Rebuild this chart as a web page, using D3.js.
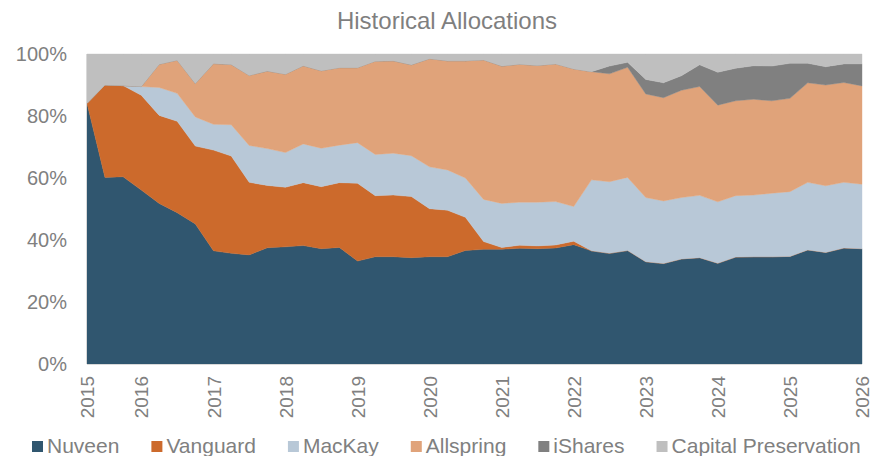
<!DOCTYPE html>
<html>
<head>
<meta charset="utf-8">
<script src="https://cdn.jsdelivr.net/npm/d3@7"></script>
<style>
    body { margin: 0; background: #fff; }
    svg { display: block; font-family: "Liberation Sans", Arial, sans-serif; }
    .axis text { fill: #808080; }
</style>
</head>
<body>
<svg width="870" height="456"></svg>
<script>
/*global d3*/

// quarterly observations, first one is spring 2015
var quarters = ["2015-04", "2015-07", "2015-10",
    "2016-01", "2016-04", "2016-07", "2016-10",
    "2017-01", "2017-04", "2017-07", "2017-10",
    "2018-01", "2018-04", "2018-07", "2018-10",
    "2019-01", "2019-04", "2019-07", "2019-10",
    "2020-01", "2020-04", "2020-07", "2020-10",
    "2021-01", "2021-04", "2021-07", "2021-10",
    "2022-01", "2022-04", "2022-07", "2022-10",
    "2023-01", "2023-04", "2023-07", "2023-10",
    "2024-01", "2024-04", "2024-07", "2024-10",
    "2025-01", "2025-04", "2025-07", "2025-10",
    "2026-01"];

var nuveen = [84.1, 60.2, 60.4, 56.1, 51.8, 48.8, 45.2, 36.5, 35.7, 35.2,
    37.5, 37.8, 38.2, 37.2, 37.6, 33.2, 34.6, 34.6, 34.3, 34.6,
    34.6, 36.6, 37.0, 37.0, 37.3, 37.2, 37.4, 38.5, 36.5, 35.7,
    36.6, 33.0, 32.4, 33.9, 34.3, 32.5, 34.5, 34.6, 34.6, 34.7,
    36.8, 36.0, 37.4, 37.2];
var vanguard = [0, 29.8, 29.4, 30.6, 28.4, 29.5, 25.1, 32.5, 31.4, 23.4,
    20.1, 19.2, 20.3, 20.0, 20.9, 25.1, 19.7, 19.9, 19.7, 15.5,
    15.0, 10.7, 2.5, 0.6, 1.0, 0.9, 1.0, 1.1, 0, 0,
    0, 0, 0, 0, 0, 0, 0, 0, 0, 0,
    0, 0, 0, 0];
var mackay = [0, 0, 0, 2.8, 9.0, 9.0, 9.4, 8.3, 10.1, 11.9,
    11.9, 11.2, 12.5, 12.4, 12.1, 13.1, 13.3, 13.5, 13.2, 13.5,
    13.0, 12.7, 13.6, 14.2, 13.9, 14.1, 14.0, 11.2, 22.9, 23.1,
    23.6, 20.7, 20.2, 19.8, 20.1, 19.8, 19.8, 19.9, 20.5, 20.9,
    21.8, 21.5, 21.2, 20.8];
var allspring = [0, 0, 0, 0, 7.5, 10.7, 10.8, 19.6, 19.4, 22.6,
    25.0, 25.3, 25.2, 25.0, 25.0, 24.2, 30.1, 29.8, 29.3, 34.9,
    35.2, 37.8, 45.0, 44.3, 44.5, 44.1, 44.4, 44.4, 34.9, 34.8,
    35.5, 33.4, 33.3, 34.6, 35.1, 31.2, 30.6, 30.9, 29.8, 30.1,
    32.1, 32.5, 32.2, 31.7];
var ishares = [0, 0, 0, 0, 0, 0, 0, 0, 0, 0,
    0, 0, 0, 0, 0, 0, 0, 0, 0, 0,
    0, 0, 0, 0, 0, 0, 0, 0, 0, 2.5,
    1.6, 4.7, 4.8, 4.7, 7.0, 10.6, 10.5, 10.8, 11.2, 11.3,
    6.3, 5.9, 6.0, 7.1];
var capital = [15.9, 10.0, 10.2, 10.5, 3.3, 2.0, 9.5, 3.1, 3.4, 6.9,
    5.5, 6.5, 3.8, 5.4, 4.4, 4.4, 2.3, 2.2, 3.5, 1.5,
    2.2, 2.2, 1.9, 3.9, 3.3, 3.7, 3.2, 4.8, 5.7, 3.9,
    2.7, 8.2, 9.3, 7.0, 3.5, 5.9, 4.6, 3.8, 3.9, 3.0,
    3.0, 4.1, 3.2, 3.2];

var names = ["Nuveen", "Vanguard", "MacKay", "Allspring", "iShares", "Capital Preservation"];
var colors = ["#30566f", "#cc6a2c", "#b8c8d7", "#e0a37a", "#808080", "#bfbfbf"];
var yTicks = [0, 0.2, 0.4, 0.6, 0.8, 1];

var svg = d3.select("svg"),
    margin = {
        top: 54,
        right: 8,
        bottom: 92,
        left: 87
    },
    width = +svg.attr("width") - margin.left - margin.right,
    height = +svg.attr("height") - margin.top - margin.bottom;

var parse = d3.timeParse("%Y-%m");
var series = [nuveen, vanguard, mackay, allspring, ishares, capital];

var data = quarters.map(function (q, i) {
    var row = { date: parse(q) };
    names.forEach(function (n, k) {
        row[n] = series[k][i];
    });
    return row;
});

var stack = d3.stack()
    .keys(names)
    .offset(d3.stackOffsetExpand);
var layers = stack(data);

var x = d3.scaleTime()
    .domain(d3.extent(data, function (d) { return d.date; }))
    .range([0, width]);
var y = d3.scaleLinear().domain([0, 1]).range([height, 0]);

var area = d3.area()
    .x(function (d) { return x(d.data.date); })
    .y0(function (d) { return y(d[0]); })
    .y1(function (d) { return y(d[1]); });

svg.append("text")
    .attr("x", 447)
    .attr("y", 29)
    .attr("text-anchor", "middle")
    .attr("fill", "#7f7f7f")
    .style("font-size", "24px")
    .text("Historical Allocations");

var g = svg.append("g")
    .attr("transform", "translate(" + margin.left + "," + margin.top + ")");

g.selectAll(".layer")
    .data(layers)
    .enter().append("path")
    .attr("class", "layer")
    .attr("d", area)
    .attr("fill", function (d, i) { return colors[i]; })
    .attr("stroke", function (d, i) { return colors[i]; })
    .attr("stroke-width", 0.4);

// axis lines
g.append("line")
    .attr("x1", 0).attr("x2", width)
    .attr("y1", height + 0.5).attr("y2", height + 0.5)
    .attr("stroke", "#d9d9d9");
g.append("line")
    .attr("x1", -0.5).attr("x2", -0.5)
    .attr("y1", 0).attr("y2", height)
    .attr("stroke", "#d9d9d9");

// y axis labels
g.append("g")
    .attr("class", "axis axis--y")
    .call(d3.axisLeft(y).tickValues(yTicks).tickFormat(d3.format(".0%")).tickSize(0).tickPadding(20))
    .call(function (a) { a.select(".domain").remove(); })
    .selectAll("text")
    .style("font-size", "20px")
    .attr("font-family", null);

// x axis, labels rotated
var xTicks = data.filter(function (d, i) {
    return i === 0 || d.date.getMonth() === 0;
}).map(function (d) { return d.date; });

g.append("g")
    .attr("class", "axis axis--x")
    .attr("transform", "translate(0," + height + ")")
    .call(d3.axisBottom(x).tickValues(xTicks).tickFormat(d3.timeFormat("%Y")).tickSize(0))
    .call(function (a) { a.select(".domain").remove(); })
    .selectAll("text")
    .attr("font-family", null)
    .style("font-size", "19px")
    .attr("transform", "rotate(-90)")
    .attr("x", -12)
    .attr("y", 0)
    .attr("dy", "0.35em")
    .attr("text-anchor", "end");

// legend
var legend = svg.append("g").attr("transform", "translate(32,453)");
var lx = 0;
names.forEach(function (n, i) {
    var item = legend.append("g").attr("transform", "translate(" + lx + ",0)");
    item.append("rect")
        .attr("x", 0).attr("y", -12)
        .attr("width", 11).attr("height", 11)
        .attr("fill", colors[i]);
    var t = item.append("text")
        .attr("x", 15)
        .attr("fill", "#808080")
        .style("font-size", "21px")
        .text(n);
    lx += 15 + t.node().getComputedTextLength() + 32;
});
</script>
</body>
</html>
